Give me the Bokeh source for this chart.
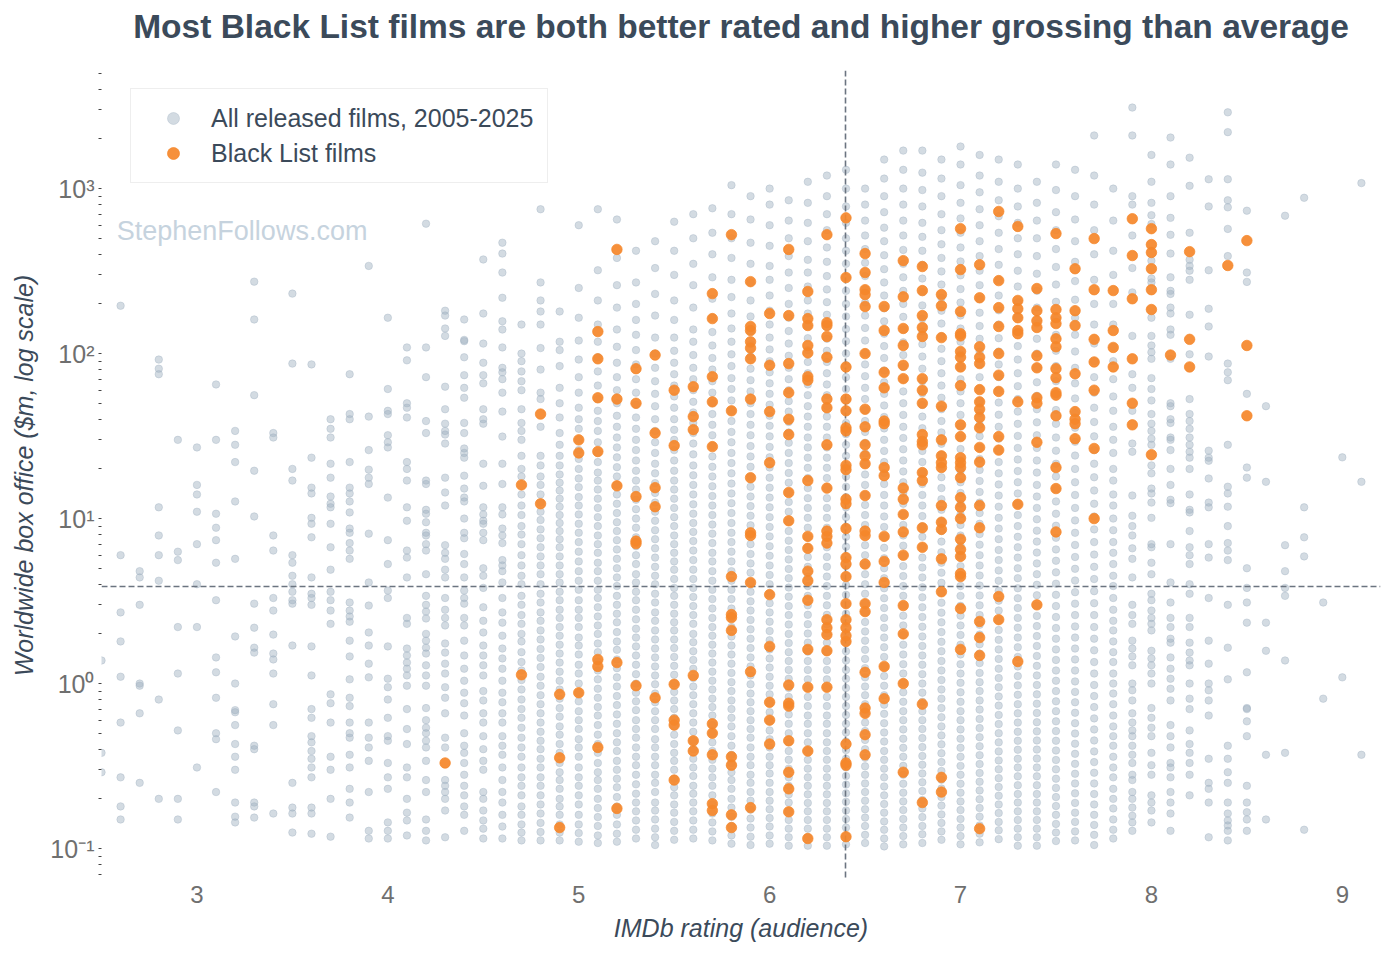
from bokeh.plotting import figure
from bokeh.models import Range1d, FixedTicker, Legend, LegendItem, Label, Title
from bokeh.embed import file_html
from bokeh.resources import INLINE

TITLE = "Most Black List films are both better rated and higher grossing than average"
X_LABEL = "IMDb rating (audience)"
Y_LABEL = "Worldwide box office ($m, log scale)"
LEGEND_ALL = "All released films, 2005-2025"
LEGEND_BL = "Black List films"
WATERMARK = "StephenFollows.com"

x_ticks = [3, 4, 5, 6, 7, 8, 9]
y_ticks = [0.1, 1, 10, 100, 1000]
y_tick_labels = ["10\u207b\u00b9", "10\u2070", "10\u00b9", "10\u00b2", "10\u00b3"]

median_rating = 6.4
median_box_office = 3.87

# ---- Black List films: IMDb rating -> worldwide box office ($m)
bl_ratings = [4.3, 4.7, 4.8, 4.9, 5.0, 5.1, 5.2, 5.3, 5.4, 5.5, 5.6, 5.7, 5.8, 5.9,
              6.0, 6.1, 6.2, 6.3, 6.4, 6.5, 6.6, 6.7, 6.8, 6.9, 7.0, 7.1, 7.2, 7.3,
              7.4, 7.5, 7.6, 7.7, 7.8, 7.9, 8.0, 8.1, 8.2, 8.4, 8.5]
bl_values = [
    [0.33],
    [16, 1.13],
    [43, 12.3],
    [0.86, 0.355, 0.134],
    [30, 25, 0.88],
    [136, 93, 54, 25.5, 1.40, 1.27, 0.41],
    [428, 53, 15.8, 1.34, 0.175],
    [81, 50, 13.6, 7.3, 7.05, 0.97],
    [98, 33, 15.4, 11.8, 0.82],
    [60, 27.7, 0.99, 0.60, 0.56, 0.26],
    [63, 41.5, 34.6, 1.12, 0.45, 0.39],
    [231, 163, 72.5, 51, 27.3, 0.57, 0.50, 0.37, 0.187, 0.17],
    [526, 45, 4.45, 2.62, 2.51, 2.10, 0.36, 0.32, 0.16, 0.134],
    [273, 146, 138, 118, 108, 93, 53, 17.7, 8.2, 7.9, 4.1, 1.18, 0.177],
    [175, 85, 44.5, 21.8, 3.46, 1.68, 0.77, 0.60, 0.43],
    [428, 170, 87, 58, 40, 32.3, 14.4, 9.7, 0.98, 0.76, 0.73, 0.45, 0.29, 0.23, 0.167],
    [238, 163, 148, 112, 101, 72.5, 69, 17, 7.8, 6.6, 4.8, 4.2, 3.2, 1.61, 0.95, 0.39, 0.115],
    [526, 154, 148, 127, 95, 53, 47, 28, 15.3, 8.4, 7.8, 7.1, 2.44, 2.18, 1.98, 1.58, 0.95],
    [665, 289, 83, 53, 45, 35.5, 34, 21, 19.8, 13.1, 12.3, 8.7, 5.8, 5.3, 4.45, 3.05,
     2.44, 2.18, 1.95, 1.80, 0.43, 0.33, 0.32, 0.118],
    [404, 310, 244, 228, 193, 100, 46, 36, 28, 24, 21.5, 13.8, 8.4, 7.9, 5.3, 3.05,
     2.73, 1.17, 0.71, 0.66, 0.49, 0.37],
    [193, 138, 77, 62, 39, 37.6, 20.4, 18.2, 7.8, 5.5, 4.1, 1.27, 0.81],
    [366, 221, 142, 112, 85, 70.5, 15.3, 13.1, 10.6, 8.3, 6.0, 2.97, 2.0, 1.0, 0.29],
    [337, 241, 170, 144, 127, 70.5, 60, 50, 32.3, 29.3, 28, 19, 17, 8.8, 6.7, 0.75, 0.19],
    [228, 195, 125, 48, 30, 24, 21.8, 20.4, 12, 9.5, 8.6, 5.7, 3.6, 0.27, 0.22],
    [572, 323, 180, 132, 128, 103, 95, 83, 64, 37, 31.4, 23.4, 21.8, 20.4, 17.7, 13.4,
     11.7, 10, 7.5, 6.5, 5.9, 4.64, 4.45, 2.85, 1.61],
    [346, 218, 110, 95, 87, 60.5, 51, 46, 41, 35.5, 27, 22, 12, 8.8, 2.38, 1.9, 1.48, 0.132],
    [727, 277, 190, 146, 100, 74, 59, 31.4, 26, 3.37, 2.44],
    [590, 210, 187, 165, 138, 132, 51, 12.2, 1.36],
    [248, 182, 158, 144, 97, 82, 54, 50, 29, 3.0],
    [534, 185, 165, 152, 123, 110, 81, 71.5, 58, 56, 42, 20.4, 15.2, 8.3],
    [327, 182, 148, 75.5, 44.5, 40, 37.6, 30.5],
    [498, 244, 122, 89, 60, 26.6, 10],
    [241, 138, 109, 83],
    [657, 393, 215, 93, 50, 37],
    [572, 458, 410, 327, 244, 185, 24.4],
    [98],
    [415, 122, 83],
    [342],
    [484, 112, 42],
]

# ---- All released films, 2005-2025: IMDb rating -> worldwide box office ($m)
grey_ratings = [2.5, 2.6, 2.7, 2.8, 2.9, 3.0, 3.1, 3.2, 3.3, 3.4, 3.5, 3.6, 3.7, 3.8, 3.9,
                4.0, 4.1, 4.2, 4.3, 4.4, 4.5, 4.6, 4.7, 4.8, 4.9, 5.0, 5.1, 5.2, 5.3,
                5.4, 5.5, 5.6, 5.7, 5.8, 5.9, 6.0, 6.1, 6.2, 6.3, 6.4, 6.5, 6.6, 6.7,
                6.8, 6.9, 7.0, 7.1, 7.2, 7.3, 7.4, 7.5, 7.6, 7.7, 7.8, 7.9, 8.0, 8.1,
                8.2, 8.3, 8.4, 8.5, 8.6, 8.7, 8.8, 8.9, 9.0, 9.1]
grey_values = [
    [1.38, 0.38, 0.29],
    [195, 6.0, 2.7, 1.8, 1.1, 0.58, 0.27, 0.18, 0.15],
    [4.8, 4.4, 3.0, 1.0, 0.97, 0.66, 0.25],
    [92, 81, 75, 11.7, 7.9, 6.0, 4.2, 0.8, 0.2],
    [30, 6.3, 5.6, 2.2, 1.15, 0.52, 0.2, 0.15],
    [27, 16, 14, 11, 7.0, 4.0, 2.2, 0.31],
    [65, 30, 10.7, 8.8, 7.4, 5.4, 3.2, 1.44, 1.17, 0.82, 0.5, 0.46, 0.22],
    [34, 28, 22, 12.7, 5.7, 1.93, 1.0, 0.69, 0.67, 0.56, 0.43, 0.36, 0.3, 0.19, 0.156, 0.144],
    [273, 161, 56, 19.5, 10.3, 3.05, 2.18, 1.65, 1.54, 0.42, 0.4, 0.19, 0.18, 0.154],
    [33, 31, 7.9, 6.4, 3.3, 2.77, 1.98, 1.52, 1.4, 1.15, 0.75, 0.56, 0.163],
    [231, 87, 20, 17, 6.0, 5.4, 4.5, 4.0, 3.6, 3.2, 3.05, 1.7, 0.25, 0.177, 0.163, 0.125],
    [86, 23.4, 15.4, 14.2, 10.1, 9.3, 7.7, 4.4, 3.5, 3.3, 3.0, 1.68, 1.12, 0.7, 0.62, 0.48,
     0.44, 0.39, 0.35, 0.31, 0.27, 0.177, 0.163, 0.123],
    [40, 35, 31, 21.5, 17.7, 13.6, 12.3, 11.7, 9.3, 6.7, 4.9, 3.6, 3.2, 2.77, 2.3, 0.86,
     0.76, 0.58, 0.36, 0.3, 0.2, 0.118],
    [75, 43, 40, 22, 15.4, 14.2, 12.7, 10.9, 8.7, 8.2, 7.1, 6.4, 5.7, 3.1, 2.77, 2.55, 2.37,
     1.82, 1.46, 1.06, 0.82, 0.73, 0.58, 0.5, 0.47, 0.37, 0.31, 0.23, 0.19, 0.154],
    [340, 41.5, 26, 19.8, 17.7, 16.2, 8.1, 4.1, 2.97, 2.04, 1.7, 1.32, 1.09, 0.58, 0.47, 0.41,
     0.34, 0.22, 0.128, 0.115],
    [165, 61, 45, 43, 32, 29, 27, 13.4, 7.4, 5.3, 3.66, 3.3, 1.68, 1.07, 0.95, 0.8, 0.62,
     0.48, 0.45, 0.33, 0.27, 0.23, 0.144, 0.128, 0.115],
    [109, 91, 50, 47, 41, 22, 20, 17, 11.7, 9.7, 6.4, 5.8, 4.4, 2.5, 2.3, 1.63, 1.48, 1.34,
     1.23, 1.12, 0.97, 0.7, 0.53, 0.43, 0.31, 0.27, 0.2, 0.165, 0.148, 0.12],
    [613, 109, 72, 39, 33, 17, 16.2, 11.3, 10.7, 9.5, 8.2, 7.9, 7.0, 6.4, 4.6, 3.4, 3.0, 2.73,
     2.48, 2.0, 1.82, 1.65, 1.52, 1.29, 1.12, 0.97, 0.71, 0.6, 0.54, 0.5, 0.45, 0.41, 0.34,
     0.26, 0.22, 0.15, 0.128, 0.112],
    [182, 170, 142, 128, 63, 46, 37.6, 34, 32.3, 28.5, 17.7, 14.4, 12, 6.9, 6.2, 5.7, 4.9,
     4.4, 3.3, 2.8, 2.5, 2.25, 1.75, 1.54, 1.32, 1.15, 0.95, 0.82, 0.66, 0.47, 0.41, 0.26,
     0.24, 0.22, 0.2, 0.17, 0.117],
    [161, 121, 119, 95, 74, 62, 54, 38, 33, 26.6, 25, 23.4, 18.2, 15.2, 13.4, 12.7, 10, 8.2,
     7.6, 6.1, 5.3, 4.4, 3.66, 3.3, 3.05, 2.5, 2.25, 1.82, 1.48, 1.23, 1.04, 0.88, 0.76, 0.64,
     0.5, 0.42, 0.38, 0.33, 0.28, 0.24, 0.21, 0.18, 0.16, 0.128],
    [372, 175, 115, 88, 74, 66, 46, 40, 37.6, 21.5, 15.8, 11.7, 10.6, 9.7, 9.3, 8.2, 7.4,
     5.0, 4.5, 3.8, 2.9, 2.4, 2.04, 1.7, 1.48, 1.29, 1.12, 0.9, 0.79, 0.66, 0.58, 0.48, 0.4,
     0.34, 0.3, 0.22, 0.2, 0.17, 0.148, 0.132, 0.115],
    [470, 404, 310, 218, 157, 140, 109, 82, 77, 70, 58, 44.5, 31.4, 21.5, 16.2, 11.7, 10.6,
     8.7, 7.9, 7.1, 5.6, 5.2, 4.8, 4.1, 3.3, 2.7, 2.34, 1.95, 1.63, 1.42, 1.23, 1.04, 0.88,
     0.77, 0.66, 0.58, 0.48, 0.42, 0.37, 0.31, 0.26, 0.22, 0.19, 0.16, 0.136, 0.115],
    [150, 100, 90, 78, 68, 60, 46, 38, 34, 30, 24, 20, 18, 14, 12, 10.5, 9, 8, 7, 6, 5.2, 4.5,
     4, 3.4, 3, 2.6, 2.3, 2, 1.8, 1.55, 1.35, 1.2, 1.05, 0.92, 0.8, 0.7, 0.62, 0.54, 0.47,
     0.41, 0.36, 0.31, 0.27, 0.24, 0.21, 0.18, 0.16, 0.14, 0.125, 0.112],
    [750, 270, 210, 180, 150, 108, 80, 58, 53, 36, 24, 21, 18, 16, 14, 12.5, 11, 9.8, 8.6,
     7.6, 6.7, 5.9, 5.2, 4.6, 4, 3.5, 3.1, 2.7, 2.4, 2.1, 1.85, 1.62, 1.43, 1.26, 1.1, 0.97,
     0.85, 0.75, 0.66, 0.58, 0.51, 0.45, 0.4, 0.35, 0.31, 0.27, 0.24, 0.21, 0.185, 0.163,
     0.143, 0.126, 0.112],
    [180, 118, 105, 84, 62, 50, 41, 33, 28, 24, 21, 18.5, 16.5, 14.8, 13.2, 11.8, 10.5, 9.4,
     8.4, 7.5, 6.7, 5.9, 5.2, 4.6, 4.1, 3.6, 3.2, 2.8, 2.5, 2.2, 1.95, 1.72, 1.52, 1.34, 1.18,
     1.04, 0.92, 0.81, 0.71, 0.63, 0.55, 0.49, 0.43, 0.38, 0.33, 0.29, 0.26, 0.23, 0.2, 0.18,
     0.16, 0.14, 0.125, 0.112],
    [600, 250, 165, 120, 92, 72, 58, 47, 40, 35, 30, 26, 23, 20, 17.5, 15.5, 13.5, 12, 10.6,
     9.3, 8.2, 7.2, 6.3, 5.5, 4.8, 4.2, 3.7, 3.2, 2.8, 2.5, 2.2, 1.9, 1.7, 1.5, 1.3, 1.15,
     1.0, 0.88, 0.78, 0.68, 0.6, 0.53, 0.46, 0.41, 0.36, 0.31, 0.27, 0.24, 0.21, 0.185, 0.16,
     0.14, 0.124, 0.11],
    [750, 320, 210, 150, 118, 95, 78, 64, 53, 45, 39, 34, 29, 25, 22, 19, 17, 15, 13.2, 11.6,
     10.2, 9.0, 7.9, 7.0, 6.2, 5.4, 4.8, 4.2, 3.7, 3.3, 2.9, 2.55, 2.25, 2.0, 1.75, 1.55,
     1.36, 1.2, 1.06, 0.93, 0.82, 0.72, 0.64, 0.56, 0.49, 0.43, 0.38, 0.33, 0.29, 0.26, 0.23,
     0.2, 0.176, 0.155, 0.137, 0.12, 0.108],
    [650, 380, 260, 190, 140, 110, 88, 72, 60, 50, 42, 36, 31, 27, 23.5, 20.5, 18, 16, 14,
     12.3, 10.8, 9.5, 8.4, 7.4, 6.5, 5.7, 5.0, 4.4, 3.9, 3.4, 3.0, 2.65, 2.35, 2.05, 1.8, 1.6,
     1.4, 1.24, 1.09, 0.96, 0.84, 0.74, 0.65, 0.57, 0.5, 0.44, 0.39, 0.34, 0.3, 0.265, 0.235,
     0.205, 0.18, 0.16, 0.14, 0.123, 0.11],
    [420, 270, 200, 160, 130, 105, 86, 70, 58, 49, 41, 35, 30, 26, 22.5, 19.5, 17, 15, 13,
     11.4, 10, 8.8, 7.7, 6.8, 6.0, 5.3, 4.6, 4.1, 3.6, 3.2, 2.8, 2.45, 2.15, 1.9, 1.68, 1.48,
     1.3, 1.14, 1.0, 0.88, 0.78, 0.69, 0.6, 0.53, 0.47, 0.41, 0.36, 0.32, 0.28, 0.245, 0.215,
     0.19, 0.168, 0.148, 0.13, 0.115],
    [480, 330, 230, 170, 125, 100, 82, 68, 57, 48, 40, 34, 29, 25, 21.5, 18.8, 16.4, 14.3,
     12.5, 11, 9.7, 8.5, 7.5, 6.6, 5.8, 5.1, 4.5, 4.0, 3.5, 3.1, 2.7, 2.4, 2.1, 1.85, 1.63,
     1.44, 1.27, 1.12, 0.99, 0.87, 0.77, 0.68, 0.6, 0.53, 0.46, 0.41, 0.36, 0.32, 0.28, 0.25,
     0.22, 0.19, 0.17, 0.15, 0.132, 0.117, 0.105],
    [630, 420, 300, 210, 160, 125, 104, 88, 75, 64, 55, 47, 40, 34.5, 30, 26, 22.5, 19.5,
     17, 15, 13.2, 11.6, 10.2, 9.0, 7.9, 7.0, 6.2, 5.5, 4.9, 4.3, 3.8, 3.4, 3.0, 2.65, 2.35,
     2.1, 1.85, 1.64, 1.45, 1.28, 1.13, 1.0, 0.89, 0.79, 0.7, 0.62, 0.55, 0.49, 0.43, 0.38,
     0.34, 0.3, 0.265, 0.235, 0.21, 0.185, 0.165, 0.145, 0.128, 0.113],
    [700, 500, 350, 260, 190, 140, 118, 98, 82, 70, 60, 51, 44, 38, 33, 28.5, 24.5, 21, 18.3,
     16, 14, 12.2, 10.7, 9.4, 8.3, 7.3, 6.4, 5.6, 4.9, 4.3, 3.8, 3.35, 2.95, 2.6, 2.3, 2.0,
     1.78, 1.57, 1.39, 1.23, 1.08, 0.96, 0.85, 0.75, 0.66, 0.58, 0.51, 0.45, 0.4, 0.35, 0.31,
     0.275, 0.24, 0.215, 0.19, 0.168, 0.148, 0.13, 0.115],
    [760, 540, 400, 290, 215, 165, 135, 112, 94, 80, 68, 58, 50, 43, 37, 32, 27.5, 23.8,
     20.6, 18, 15.7, 13.7, 12, 10.5, 9.2, 8.1, 7.1, 6.2, 5.5, 4.8, 4.2, 3.7, 3.25, 2.85, 2.5,
     2.2, 1.95, 1.72, 1.52, 1.34, 1.18, 1.04, 0.92, 0.81, 0.72, 0.64, 0.56, 0.5, 0.44, 0.39,
     0.345, 0.305, 0.27, 0.24, 0.21, 0.185, 0.163, 0.144, 0.127, 0.112],
    [1050, 700, 500, 380, 280, 220, 175, 142, 118, 99, 84, 71, 61, 52, 45, 39, 33.5, 29, 25,
     21.7, 18.8, 16.3, 14.2, 12.4, 10.8, 9.4, 8.2, 7.2, 6.3, 5.5, 4.8, 4.2, 3.7, 3.25, 2.85,
     2.5, 2.2, 1.93, 1.7, 1.5, 1.32, 1.16, 1.02, 0.9, 0.79, 0.7, 0.62, 0.55, 0.48, 0.42, 0.37,
     0.33, 0.29, 0.26, 0.23, 0.2, 0.177, 0.156, 0.137, 0.12, 0.107],
    [900, 650, 470, 350, 270, 210, 168, 137, 114, 96, 81, 69, 59, 50, 43, 37, 32, 27.5, 23.8,
     20.6, 17.9, 15.6, 13.6, 11.9, 10.4, 9.1, 8.0, 7.0, 6.1, 5.35, 4.7, 4.1, 3.6, 3.15, 2.77,
     2.43, 2.13, 1.87, 1.64, 1.44, 1.27, 1.12, 0.99, 0.87, 0.77, 0.68, 0.6, 0.53, 0.47, 0.41,
     0.36, 0.32, 0.28, 0.25, 0.22, 0.195, 0.172, 0.152, 0.134, 0.118, 0.105],
    [1000, 800, 600, 450, 340, 280, 225, 182, 150, 125, 106, 90, 77, 66, 57, 49, 42, 36.5,
     31.5, 27.2, 23.5, 20.4, 17.7, 15.4, 13.4, 11.7, 10.2, 8.9, 7.8, 6.8, 5.95, 5.2, 4.55,
     4.0, 3.5, 3.07, 2.7, 2.37, 2.08, 1.83, 1.61, 1.42, 1.25, 1.1, 0.97, 0.86, 0.76, 0.67,
     0.59, 0.52, 0.46, 0.41, 0.36, 0.32, 0.285, 0.25, 0.22, 0.195, 0.173, 0.153, 0.136, 0.12,
     0.107],
    [850, 640, 500, 390, 310, 250, 200, 165, 137, 115, 97, 82, 70, 60, 51.5, 44.5, 38.5,
     33.3, 28.8, 25, 21.7, 18.9, 16.5, 14.4, 12.6, 11, 9.6, 8.4, 7.35, 6.45, 5.65, 4.95, 4.35,
     3.82, 3.36, 2.95, 2.6, 2.28, 2.0, 1.76, 1.55, 1.37, 1.21, 1.07, 0.94, 0.83, 0.73, 0.65,
     0.57, 0.5, 0.44, 0.39, 0.345, 0.305, 0.27, 0.24, 0.213, 0.19, 0.168, 0.149, 0.132, 0.117,
     0.104],
    [1100, 820, 620, 480, 370, 310, 255, 210, 175, 147, 124, 105, 89, 76, 65, 56, 48, 41.5,
     36, 31, 27, 23.4, 20.3, 17.6, 15.3, 13.3, 11.6, 10.1, 8.8, 7.7, 6.7, 5.85, 5.1, 4.45,
     3.9, 3.4, 2.98, 2.61, 2.29, 2.01, 1.77, 1.56, 1.37, 1.21, 1.06, 0.94, 0.83, 0.73, 0.64,
     0.57, 0.5, 0.44, 0.39, 0.345, 0.305, 0.27, 0.24, 0.213, 0.189, 0.168, 0.149, 0.132,
     0.117, 0.104],
    [1200, 900, 700, 560, 440, 360, 295, 245, 205, 172, 145, 123, 104, 89, 76, 65, 56, 48,
     41.5, 36, 31, 27, 23.4, 20.3, 17.6, 15.3, 13.3, 11.6, 10.1, 8.8, 7.7, 6.7, 5.85, 5.1,
     4.45, 3.9, 3.4, 2.98, 2.61, 2.29, 2.01, 1.77, 1.56, 1.37, 1.21, 1.06, 0.94, 0.83, 0.73,
     0.64, 0.57, 0.5, 0.44, 0.39, 0.345, 0.305, 0.27, 0.24, 0.213, 0.189, 0.168, 0.149,
     0.132, 0.117, 0.104],
    [1300, 1000, 780, 620, 500, 420, 350, 290, 240, 200, 168, 141, 119, 100, 85, 72, 61, 52,
     44.5, 38, 32.5, 28, 24, 20.8, 18, 15.6, 13.5, 11.7, 10.2, 8.9, 7.75, 6.75, 5.9, 5.15,
     4.5, 3.95, 3.45, 3.02, 2.65, 2.32, 2.04, 1.79, 1.57, 1.38, 1.21, 1.07, 0.94, 0.83, 0.73,
     0.645, 0.57, 0.505, 0.445, 0.395, 0.35, 0.31, 0.275, 0.244, 0.216, 0.192, 0.17, 0.151,
     0.134, 0.119, 0.106],
    [1000, 800, 640, 520, 430, 355, 295, 245, 204, 170, 143, 120, 101, 86, 73, 62, 53, 45.5,
     39, 33.5, 28.8, 24.8, 21.4, 18.5, 16, 13.9, 12.1, 10.5, 9.15, 7.95, 6.9, 6.0, 5.25, 4.6,
     4.0, 3.5, 3.07, 2.69, 2.36, 2.07, 1.82, 1.6, 1.41, 1.24, 1.09, 0.96, 0.85, 0.75, 0.66,
     0.58, 0.515, 0.455, 0.4, 0.355, 0.315, 0.28, 0.248, 0.22, 0.195, 0.173, 0.154, 0.137,
     0.121, 0.108],
    [1500, 1150, 900, 720, 580, 480, 395, 325, 270, 225, 188, 157, 132, 111, 94, 79, 67, 57,
     48.5, 41.3, 35.2, 30, 25.7, 22, 18.9, 16.2, 13.9, 12, 10.3, 8.9, 7.7, 6.65, 5.75, 5.0,
     4.35, 3.78, 3.29, 2.87, 2.5, 2.18, 1.9, 1.66, 1.45, 1.27, 1.11, 0.97, 0.85, 0.745, 0.655,
     0.575, 0.505, 0.445, 0.39, 0.345, 0.305, 0.27, 0.238, 0.21, 0.186, 0.165, 0.146, 0.13,
     0.115, 0.103],
    [1700, 1300, 1000, 800, 640, 520, 425, 350, 290, 240, 200, 167, 140, 117, 98, 83, 70, 59,
     50, 42.5, 36, 30.8, 26.3, 22.5, 19.3, 16.6, 14.3, 12.3, 10.6, 9.15, 7.9, 6.85, 5.95,
     5.15, 4.48, 3.9, 3.4, 2.96, 2.58, 2.25, 1.97, 1.72, 1.5, 1.31, 1.15, 1.01, 0.885, 0.775,
     0.68, 0.6, 0.527, 0.463, 0.408, 0.36, 0.317, 0.28, 0.247, 0.218, 0.193, 0.171, 0.151,
     0.134, 0.119, 0.106],
    [1700, 1250, 980, 780, 620, 510, 420, 345, 285, 236, 196, 163, 136, 114, 96, 81, 68, 57.5,
     48.8, 41.5, 35.3, 30.1, 25.7, 22, 18.9, 16.2, 13.9, 12, 10.35, 8.95, 7.75, 6.7, 5.8, 5.05,
     4.4, 3.83, 3.33, 2.9, 2.53, 2.21, 1.93, 1.69, 1.48, 1.3, 1.14, 1.0, 0.88, 0.775, 0.68,
     0.6, 0.53, 0.467, 0.412, 0.364, 0.322, 0.285, 0.252, 0.223, 0.197, 0.175, 0.155, 0.137,
     0.122, 0.108],
    [1500, 1150, 900, 700, 560, 460, 380, 315, 262, 218, 182, 152, 127, 107, 90, 76, 64, 54,
     46, 39, 33.3, 28.4, 24.3, 20.8, 17.8, 15.3, 13.1, 11.3, 9.7, 8.4, 7.25, 6.25, 5.4, 4.7,
     4.08, 3.55, 3.09, 2.69, 2.35, 2.05, 1.79, 1.57, 1.37, 1.2, 1.05, 0.92, 0.81, 0.71, 0.625,
     0.55, 0.485, 0.428, 0.378, 0.334, 0.295, 0.261, 0.231, 0.205, 0.182, 0.161, 0.143, 0.127,
     0.113],
    [1800, 1400, 1050, 820, 660, 540, 440, 362, 298, 246, 204, 170, 142, 118, 99, 83, 70, 59,
     50, 42.5, 36.2, 30.9, 26.4, 22.6, 19.4, 16.6, 14.3, 12.3, 10.6, 9.15, 7.9, 6.85, 5.95,
     5.15, 4.48, 3.9, 3.4, 2.96, 2.58, 2.25, 1.97, 1.72, 1.5, 1.31, 1.15, 1.01, 0.885, 0.775,
     0.68, 0.6, 0.527, 0.463, 0.408, 0.36, 0.317, 0.28, 0.247, 0.218, 0.193, 0.171, 0.151,
     0.134, 0.119, 0.106],
    [1600, 1200, 950, 750, 600, 480, 390, 318, 260, 214, 177, 147, 123, 103, 86, 72, 61, 51.5,
     43.7, 37.1, 31.6, 26.9, 23, 19.7, 16.9, 14.5, 12.5, 10.8, 9.3, 8.05, 6.95, 6.0, 5.2,
     4.52, 3.93, 3.42, 2.98, 2.6, 2.27, 1.98, 1.73, 1.52, 1.33, 1.16, 1.02, 0.9, 0.79, 0.695,
     0.61, 0.537, 0.473, 0.417, 0.368, 0.325, 0.287, 0.254, 0.225, 0.199, 0.176, 0.156, 0.138,
     0.123, 0.109],
    [1500, 1100, 850, 680, 540, 430, 345, 278, 225, 183, 150, 124, 103, 86, 72, 60, 50.5,
     42.6, 36, 30.5, 25.9, 22, 18.8, 16.1, 13.8, 11.8, 10.1, 8.7, 7.5, 6.45, 5.6, 4.85, 4.2,
     3.65, 3.18, 2.77, 2.42, 2.11, 1.84, 1.61, 1.41, 1.23, 1.08, 0.95, 0.835, 0.735, 0.645,
     0.568, 0.5, 0.44, 0.388, 0.342, 0.302, 0.267, 0.236, 0.209, 0.185, 0.164, 0.145, 0.129,
     0.114],
    [1400, 1000, 780, 620, 500, 400, 318, 255, 205, 166, 135, 111, 92, 76, 63.5, 53, 44.5,
     37.5, 31.7, 26.8, 22.8, 19.4, 16.6, 14.2, 12.2, 10.5, 9.0, 7.75, 6.7, 5.8, 5.0, 4.35,
     3.78, 3.29, 2.87, 2.5, 2.18, 1.9, 1.66, 1.45, 1.27, 1.11, 0.975, 0.855, 0.75, 0.66, 0.58,
     0.51, 0.45, 0.397, 0.35, 0.31, 0.274, 0.242, 0.214, 0.19, 0.168, 0.149, 0.132, 0.117,
     0.104],
    [1100, 820, 640, 500, 390, 305, 240, 190, 152, 123, 100, 82, 67, 55.5, 46, 38.3, 32, 26.8,
     22.5, 19, 16, 13.6, 11.6, 9.9, 8.45, 7.25, 6.22, 5.35, 4.6, 3.97, 3.43, 2.97, 2.57, 2.23,
     1.94, 1.69, 1.47, 1.28, 1.12, 0.98, 0.86, 0.755, 0.663, 0.583, 0.513, 0.452, 0.398,
     0.351, 0.31, 0.274, 0.242, 0.214, 0.19, 0.168, 0.149, 0.132, 0.117, 0.104],
    [1400, 980, 720, 560, 430, 335, 262, 206, 163, 130, 104, 84, 68, 55.5, 45.5, 37.5, 31,
     25.8, 21.5, 18, 15.1, 12.7, 10.7, 9.05, 7.65, 6.5, 5.55, 4.72, 4.03, 3.45, 2.95, 2.53,
     2.17, 1.87, 1.61, 1.39, 1.2, 1.04, 0.9, 0.78, 0.68, 0.59, 0.515, 0.45, 0.393, 0.344,
     0.302, 0.265, 0.233, 0.205, 0.181, 0.16, 0.141, 0.125, 0.111],
    [1300, 900, 650, 480, 360, 275, 212, 165, 130, 103, 82, 66, 53.5, 43.5, 35.5, 29.2, 24.1,
     20, 16.6, 13.9, 11.6, 9.75, 8.2, 6.92, 5.85, 4.96, 4.21, 3.58, 3.05, 2.6, 2.22, 1.9,
     1.63, 1.4, 1.2, 1.03, 0.89, 0.77, 0.665, 0.575, 0.498, 0.432, 0.375, 0.326, 0.284, 0.248,
     0.216, 0.189, 0.165, 0.145, 0.127, 0.112],
    [2100, 1200, 800, 560, 400, 280, 200, 150, 115, 90, 72, 58, 47, 38.5, 31.5, 26, 21.5,
     17.8, 14.8, 12.3, 10.3, 8.6, 7.2, 6.05, 5.1, 4.3, 3.63, 3.07, 2.6, 2.2, 1.87, 1.59, 1.35,
     1.15, 0.98, 0.84, 0.72, 0.615, 0.527, 0.452, 0.388, 0.334, 0.288, 0.248, 0.214, 0.185,
     0.16, 0.139, 0.121, 0.105],
    [1000, 640, 420, 300, 200, 150, 110, 90, 70, 55, 45, 36, 30, 25, 20, 17, 14, 12, 10, 8.5,
     7.2, 6.2, 5.3, 4.5, 3.9, 3.3, 2.8, 2.4, 2.1, 1.8, 1.55, 1.35, 1.15, 1.0, 0.87, 0.75,
     0.64, 0.55, 0.48, 0.42, 0.36, 0.31, 0.27, 0.23, 0.2, 0.175, 0.15, 0.13, 0.115],
    [3100, 2100, 900, 800, 520, 330, 235, 128, 75, 62, 45, 28.5, 25.4, 13.8, 10.4, 9.0, 7.9,
     6.6, 5.7, 4.4, 3.0, 2.6, 2.3, 1.82, 1.63, 1.46, 1.29, 1.0, 0.91, 0.79, 0.66, 0.58, 0.52,
     0.48, 0.42, 0.37, 0.33, 0.28, 0.26, 0.22, 0.2, 0.177, 0.158, 0.144, 0.128],
    [1600, 1100, 820, 690, 610, 365, 285, 270, 165, 128, 112, 102, 93, 71, 61, 52, 43, 37.6,
     34, 30.5, 28, 21, 18.8, 15.2, 14.2, 12.5, 10.1, 7.0, 6.7, 5.4, 4.6, 3.5, 3.2, 2.77, 2.5,
     2.3, 2.1, 1.58, 1.42, 1.29, 1.15, 1.0, 0.71, 0.62, 0.54, 0.48, 0.38, 0.32, 0.28, 0.21,
     0.19, 0.17, 0.144],
    [2040, 1400, 900, 665, 525, 404, 290, 240, 230, 190, 175, 140, 130, 93, 50, 48, 40, 38,
     31, 30, 26, 20, 16, 13, 12.4, 7.0, 4.1, 3.1, 2.5, 2.2, 1.87, 1.77, 1.44, 1.23, 1.07,
     0.93, 0.79, 0.56, 0.48, 0.41, 0.33, 0.31, 0.27, 0.22, 0.19, 0.163, 0.128],
    [1540, 1040, 540, 370, 340, 318, 280, 172, 99, 53, 43, 39, 35, 31, 28, 25.4, 23.4, 20,
     14.0, 11.3, 10.9, 8.4, 6.7, 6.0, 5.3, 4.0, 3.5, 2.5, 2.2, 1.77, 1.54, 1.38, 1.29, 1.0,
     0.81, 0.7, 0.52, 0.43, 0.38, 0.33, 0.28, 0.21],
    [1140, 780, 320, 187, 146, 96, 25.8, 23.4, 22.4, 17.5, 12.5, 11.7, 7.0, 5.8, 3.3, 1.82,
     1.32, 1.0, 0.91, 0.79, 0.64, 0.35, 0.25, 0.23, 0.19, 0.117],
    [2900, 2200, 1140, 850, 770, 570, 390, 87, 77, 69, 28, 15.6, 14.2, 11.8, 9.0, 7.1, 6.4,
     5.6, 3.0, 1.65, 1.06, 0.42, 0.35, 0.29, 0.25, 0.19, 0.163, 0.148, 0.138, 0.128, 0.112],
    [735, 310, 272, 57, 20.4, 17.7, 5.0, 3.8, 3.1, 2.34, 1.17, 0.71, 0.70, 0.59, 0.48, 0.24,
     0.19, 0.166, 0.15, 0.128],
    [48, 16.7, 2.34, 1.58, 0.37, 0.15],
    [685, 6.9, 4.8, 3.8, 3.4, 1.38, 0.38],
    [880, 11.7, 7.7, 5.9, 0.13],
    [3.1, 0.81],
    [23.5, 1.09],
    [1080, 16.7, 0.37],
]

# ---------------------------------------------------------------- build
gx, gy = [], []
for r, vals in zip(grey_ratings, grey_values):
    gx.extend([r] * len(vals))
    gy.extend(vals)
bx, by = [], []
for r, vals in zip(bl_ratings, bl_values):
    bx.extend([r] * len(vals))
    by.extend(vals)

FONT = "Liberation Sans"
DARK = "#3b4a5a"
GREY_TXT = "#6f6f6f"

p = figure(width=1387, height=948, x_range=Range1d(2.5, 9.2),
           y_range=Range1d(0.064, 5200), y_axis_type="log",
           output_backend="svg", toolbar_location=None, title_location=None,
           min_border_left=101, min_border_right=7, min_border_top=70,
           min_border_bottom=68, background_fill_color="white",
           border_fill_color="white")
p.outline_line_color = None
p.grid.visible = False

# spacer panel between the frame and the title (first added = closest to frame)
p.add_layout(Title(text=" ", text_font_size="2px", standoff=20), "above")
p.add_layout(Title(text=TITLE, align="center", vertical_align="top", standoff=0,
                   text_font=FONT, text_font_size="33.5px", text_font_style="bold",
                   text_color=DARK), "above")

grey = p.scatter(gx, gy, size=7.5, marker="circle",
                 fill_color="#a0b0bf", fill_alpha=0.46,
                 line_color="#a0b0bf", line_alpha=0.46, line_width=0.8)

p.vspan(x=[median_rating], line_color="#6b7480", line_width=1.6, line_dash="6 3")
p.hspan(y=[median_box_office], line_color="#6b7480", line_width=1.6, line_dash="6 3")

bl = p.scatter(bx, by, size=10.5, marker="circle",
               fill_color="#f5872a", fill_alpha=0.92,
               line_color="#f5872a", line_alpha=0.92, line_width=0.8)

# axes
xa = p.xaxis[0]
xa.ticker = FixedTicker(ticks=x_ticks, minor_ticks=[])
xa.axis_line_color = None
xa.major_tick_line_color = None
xa.minor_tick_line_color = None
xa.major_tick_out = 0
xa.major_tick_in = 0
xa.minor_tick_out = 0
xa.major_label_text_font = FONT
xa.major_label_text_font_size = "24px"
xa.major_label_text_color = GREY_TXT
xa.major_label_standoff = 5
xa.axis_label = X_LABEL
xa.axis_label_text_font = FONT
xa.axis_label_text_font_size = "25px"
xa.axis_label_text_font_style = "italic"
xa.axis_label_text_color = DARK
xa.axis_label_standoff = 8

minor = [m * 10 ** e for e in range(-2, 4) for m in range(2, 10)]
ya = p.yaxis[0]
ya.ticker = FixedTicker(ticks=y_ticks, minor_ticks=minor)
ya.major_label_overrides = {t: lab for t, lab in zip(y_ticks, y_tick_labels)}
ya.axis_line_color = None
ya.major_tick_line_color = "#444444"
ya.minor_tick_line_color = "#444444"
ya.major_tick_out = 3
ya.major_tick_in = 0
ya.minor_tick_out = 3
ya.minor_tick_in = 0
ya.major_label_text_font = FONT
ya.major_label_text_font_size = "25px"
ya.major_label_text_color = GREY_TXT
ya.major_label_standoff = 4
ya.axis_label = Y_LABEL
ya.axis_label_text_font = FONT
ya.axis_label_text_font_size = "25px"
ya.axis_label_text_font_style = "italic"
ya.axis_label_text_color = DARK
ya.axis_label_standoff = 9

p.add_layout(Label(x=2.58, y=556, text=WATERMARK, text_font=FONT,
                   text_font_size="27px", text_color="#c6d3de",
                   text_baseline="middle", text_align="left"))

legend = Legend(items=[LegendItem(label=LEGEND_ALL, renderers=[grey]),
                       LegendItem(label=LEGEND_BL, renderers=[bl])],
                location=(29, 697), orientation="vertical",
                label_text_font=FONT, label_text_font_size="25px",
                label_text_color=DARK, label_height=30, label_standoff=10,
                glyph_width=56, glyph_height=30, spacing=5, padding=14,
                border_line_color="#dddddd", border_line_width=1.2,
                background_fill_color="white", background_fill_alpha=1.0)
p.add_layout(legend)

open("out.html", "w").write(file_html(p, INLINE))
